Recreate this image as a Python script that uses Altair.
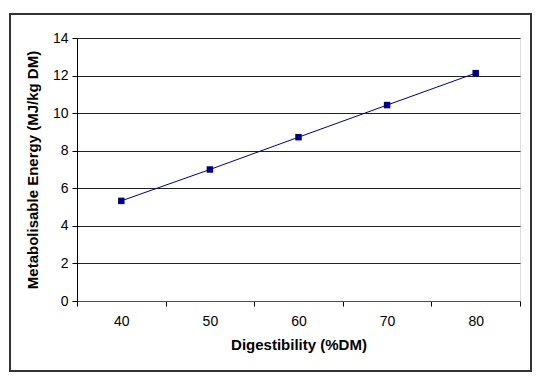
import altair as alt
import pandas as pd

digestibility = [40, 50, 60, 70, 80]
energy = [5.33, 7.0, 8.72, 10.43, 12.13]

df = pd.DataFrame({"dig": digestibility, "me": energy})

W, H = 443, 263

x_enc = alt.X(
    "dig:Q",
    scale=alt.Scale(domain=[35, 85], nice=False, zero=False),
    axis=alt.Axis(
        title="Digestibility  (%DM)",
        values=[35, 45, 55, 65, 75, 85],
        labelExpr="datum.value < 85 ? format(datum.value + 5, 'd') : ''",
        labelOffset=W / 10,
        labelFlush=False,
        labelOverlap=False,
        labelPadding=8,
        grid=False,
        domainColor="#555533",
        tickColor="#000000",
        tickSize=5,
        labelFont="Liberation Sans",
        labelFontSize=14,
        labelColor="#000000",
        titleFont="Liberation Sans",
        titleFontSize=15,
        titleFontWeight="bold",
        titleColor="#000000",
        titlePadding=9,
    ),
)
y_enc = alt.Y(
    "me:Q",
    scale=alt.Scale(domain=[0, 14], nice=False),
    axis=alt.Axis(
        title="Metabolisable Energy  (MJ/kg DM)",
        values=[0, 2, 4, 6, 8, 10, 12, 14],
        labelOverlap=False,
        labelFlush=False,
        grid=True,
        gridColor="#222222",
        gridWidth=1,
        domainColor="#000000",
        tickColor="#000000",
        tickSize=5,
        labelFont="Liberation Sans",
        labelFontSize=14,
        labelColor="#000000",
        labelPadding=4,
        titleFont="Liberation Sans",
        titleFontSize=15,
        titleFontWeight="bold",
        titleColor="#000000",
        titlePadding=12,
    ),
)

frame = alt.Chart(pd.DataFrame({"a": [0]})).mark_rect(
    fill=None, stroke="#333333", strokeWidth=2, clip=False
).encode(
    x=alt.value(-67), x2=alt.value(W + 11), y=alt.value(-24), y2=alt.value(H + 70)
)

base = alt.Chart(df).encode(x=x_enc, y=y_enc)
line = base.mark_line(color="#000080", strokeWidth=1)
pts = base.mark_square(color="#000080", size=42, opacity=1)

chart = alt.layer(line, pts, frame).properties(
    width=W, height=H,
    autosize=alt.AutoSizeParams(type="none"),
    padding={"left": 69, "top": 30, "right": 12, "bottom": 71},
).configure_view(
    stroke="#9090a8", strokeWidth=1
).configure(background="white")

chart.save("out.html", embed_options={"renderer": "svg", "actions": False})
